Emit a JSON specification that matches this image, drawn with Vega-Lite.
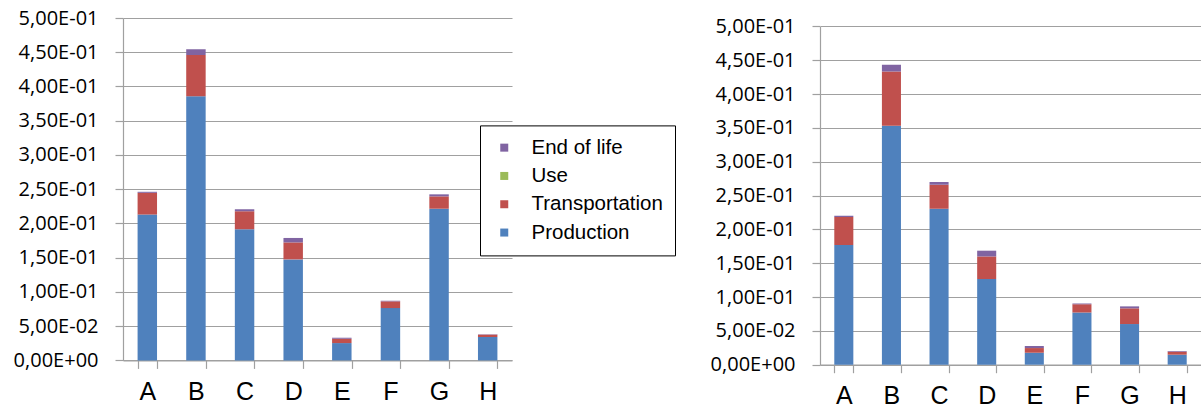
{
  "$schema": "https://vega.github.io/schema/vega-lite/v6.json",
  "background": "white",
  "padding": {"left": 13, "top": 8, "right": 0, "bottom": 0},
  "bounds": "flush",
  "spacing": 308,
  "config": {
    "view": {"stroke": null},
    "axis": {"gridColor": "#a0a0a0", "domainColor": "#a0a0a0", "tickColor": "#a0a0a0", "labelColor": "#000000", "gridWidth": 1.2, "domainWidth": 1.2, "tickWidth": 1.2}
  },
  "data": {"values": [
    {"panel": "left", "item": "A", "stage": "Production", "rank": 1, "value": 0.2130},
    {"panel": "left", "item": "A", "stage": "Transportation", "rank": 2, "value": 0.0317},
    {"panel": "left", "item": "A", "stage": "Use", "rank": 3, "value": 0},
    {"panel": "left", "item": "A", "stage": "End of life", "rank": 4, "value": 0.0015},
    {"panel": "left", "item": "B", "stage": "Production", "rank": 1, "value": 0.3858},
    {"panel": "left", "item": "B", "stage": "Transportation", "rank": 2, "value": 0.0601},
    {"panel": "left", "item": "B", "stage": "Use", "rank": 3, "value": 0},
    {"panel": "left", "item": "B", "stage": "End of life", "rank": 4, "value": 0.0083},
    {"panel": "left", "item": "C", "stage": "Production", "rank": 1, "value": 0.1914},
    {"panel": "left", "item": "C", "stage": "Transportation", "rank": 2, "value": 0.0265},
    {"panel": "left", "item": "C", "stage": "Use", "rank": 3, "value": 0},
    {"panel": "left", "item": "C", "stage": "End of life", "rank": 4, "value": 0.0030},
    {"panel": "left", "item": "D", "stage": "Production", "rank": 1, "value": 0.1475},
    {"panel": "left", "item": "D", "stage": "Transportation", "rank": 2, "value": 0.0248},
    {"panel": "left", "item": "D", "stage": "Use", "rank": 3, "value": 0},
    {"panel": "left", "item": "D", "stage": "End of life", "rank": 4, "value": 0.0065},
    {"panel": "left", "item": "E", "stage": "Production", "rank": 1, "value": 0.0253},
    {"panel": "left", "item": "E", "stage": "Transportation", "rank": 2, "value": 0.0063},
    {"panel": "left", "item": "E", "stage": "Use", "rank": 3, "value": 0},
    {"panel": "left", "item": "E", "stage": "End of life", "rank": 4, "value": 0.0015},
    {"panel": "left", "item": "F", "stage": "Production", "rank": 1, "value": 0.0764},
    {"panel": "left", "item": "F", "stage": "Transportation", "rank": 2, "value": 0.0098},
    {"panel": "left", "item": "F", "stage": "Use", "rank": 3, "value": 0},
    {"panel": "left", "item": "F", "stage": "End of life", "rank": 4, "value": 0.0009},
    {"panel": "left", "item": "G", "stage": "Production", "rank": 1, "value": 0.2215},
    {"panel": "left", "item": "G", "stage": "Transportation", "rank": 2, "value": 0.0180},
    {"panel": "left", "item": "G", "stage": "Use", "rank": 3, "value": 0},
    {"panel": "left", "item": "G", "stage": "End of life", "rank": 4, "value": 0.0030},
    {"panel": "left", "item": "H", "stage": "Production", "rank": 1, "value": 0.0342},
    {"panel": "left", "item": "H", "stage": "Transportation", "rank": 2, "value": 0.0034},
    {"panel": "left", "item": "H", "stage": "Use", "rank": 3, "value": 0},
    {"panel": "left", "item": "H", "stage": "End of life", "rank": 4, "value": 0.0005},
    {"panel": "right", "item": "A", "stage": "Production", "rank": 1, "value": 0.1769},
    {"panel": "right", "item": "A", "stage": "Transportation", "rank": 2, "value": 0.0414},
    {"panel": "right", "item": "A", "stage": "Use", "rank": 3, "value": 0},
    {"panel": "right", "item": "A", "stage": "End of life", "rank": 4, "value": 0.0019},
    {"panel": "right", "item": "B", "stage": "Production", "rank": 1, "value": 0.3532},
    {"panel": "right", "item": "B", "stage": "Transportation", "rank": 2, "value": 0.0803},
    {"panel": "right", "item": "B", "stage": "Use", "rank": 3, "value": 0},
    {"panel": "right", "item": "B", "stage": "End of life", "rank": 4, "value": 0.0099},
    {"panel": "right", "item": "C", "stage": "Production", "rank": 1, "value": 0.2306},
    {"panel": "right", "item": "C", "stage": "Transportation", "rank": 2, "value": 0.0354},
    {"panel": "right", "item": "C", "stage": "Use", "rank": 3, "value": 0},
    {"panel": "right", "item": "C", "stage": "End of life", "rank": 4, "value": 0.0040},
    {"panel": "right", "item": "D", "stage": "Production", "rank": 1, "value": 0.1266},
    {"panel": "right", "item": "D", "stage": "Transportation", "rank": 2, "value": 0.0334},
    {"panel": "right", "item": "D", "stage": "Use", "rank": 3, "value": 0},
    {"panel": "right", "item": "D", "stage": "End of life", "rank": 4, "value": 0.0085},
    {"panel": "right", "item": "E", "stage": "Production", "rank": 1, "value": 0.0177},
    {"panel": "right", "item": "E", "stage": "Transportation", "rank": 2, "value": 0.0069},
    {"panel": "right", "item": "E", "stage": "Use", "rank": 3, "value": 0},
    {"panel": "right", "item": "E", "stage": "End of life", "rank": 4, "value": 0.0030},
    {"panel": "right", "item": "F", "stage": "Production", "rank": 1, "value": 0.0773},
    {"panel": "right", "item": "F", "stage": "Transportation", "rank": 2, "value": 0.0119},
    {"panel": "right", "item": "F", "stage": "Use", "rank": 3, "value": 0},
    {"panel": "right", "item": "F", "stage": "End of life", "rank": 4, "value": 0.0014},
    {"panel": "right", "item": "G", "stage": "Production", "rank": 1, "value": 0.0601},
    {"panel": "right", "item": "G", "stage": "Transportation", "rank": 2, "value": 0.0232},
    {"panel": "right", "item": "G", "stage": "Use", "rank": 3, "value": 0},
    {"panel": "right", "item": "G", "stage": "End of life", "rank": 4, "value": 0.0029},
    {"panel": "right", "item": "H", "stage": "Production", "rank": 1, "value": 0.0148},
    {"panel": "right", "item": "H", "stage": "Transportation", "rank": 2, "value": 0.0044},
    {"panel": "right", "item": "H", "stage": "Use", "rank": 3, "value": 0},
    {"panel": "right", "item": "H", "stage": "End of life", "rank": 4, "value": 0.0010}
  ]},
  "resolve": {"scale": {"x": "independent", "y": "independent"}, "legend": {"color": "independent"}},
  "hconcat": [
    {
      "width": 389,
      "height": 342.4,
      "transform": [{"filter": "datum.panel == 'left'"}],
      "mark": {"type": "bar"},
      "encoding": {
        "x": {"field": "item", "type": "nominal", "sort": ["A","B","C","D","E","F","G","H"],
          "scale": {"paddingInner": 0.6, "paddingOuter": 0.3},
          "axis": {"title": null, "labelAngle": 0, "tickBand": "extent", "tickSize": 8, "labelFont": "Liberation Sans", "labelFontSize": 25, "labelPadding": 11, "grid": false}},
        "y": {"field": "value", "type": "quantitative", "stack": "zero",
          "scale": {"domain": [0, 0.5], "nice": false},
          "axis": {"title": null, "values": [0, 0.05, 0.1, 0.15, 0.2, 0.25, 0.3, 0.35, 0.4, 0.45, 0.5],
            "labelExpr": "datum.value < 0.001 ? '0,00E+00' : datum.value >= 0.0999 ? replace(format(datum.value * 10, '.2f'), '.', ',') + 'E-01' : replace(format(datum.value * 100, '.2f'), '.', ',') + 'E-02'",
            "tickSize": 8, "labelFont": "Open Sans", "labelFontSize": 20, "labelPadding": 17, "grid": true}},
        "color": {"field": "stage", "type": "nominal",
          "scale": {"domain": ["End of life", "Use", "Transportation", "Production"], "range": ["#8064A2", "#9BBB59", "#C0504D", "#4F81BD"]},
          "legend": {"orient": "none", "legendX": 357, "legendY": 107.4, "title": null, "strokeColor": "#000000", "fillColor": "#ffffff", "padding": 12, "symbolType": "square", "symbolSize": 64, "symbolStrokeWidth": 0, "symbolOffset": 2, "labelFont": "Liberation Sans", "labelFontSize": 20.5, "labelOffset": 17, "rowPadding": 7.3, "labelColor": "#000000"}},
        "order": {"field": "rank", "type": "quantitative"}
      }
    },
    {
      "width": 381,
      "height": 346.7,
      "transform": [{"filter": "datum.panel == 'right'"}],
      "mark": {"type": "bar"},
      "encoding": {
        "x": {"field": "item", "type": "nominal", "sort": ["A","B","C","D","E","F","G","H"],
          "scale": {"paddingInner": 0.6, "paddingOuter": 0.3},
          "axis": {"title": null, "labelAngle": 0, "tickBand": "extent", "tickSize": 8, "labelFont": "Liberation Sans", "labelFontSize": 25, "labelPadding": 11, "grid": false}},
        "y": {"field": "value", "type": "quantitative", "stack": "zero",
          "scale": {"domain": [0, 0.5], "nice": false, "range": [346.7, 8.4]},
          "axis": {"title": null, "values": [0, 0.05, 0.1, 0.15, 0.2, 0.25, 0.3, 0.35, 0.4, 0.45, 0.5],
            "labelExpr": "datum.value < 0.001 ? '0,00E+00' : datum.value >= 0.0999 ? replace(format(datum.value * 10, '.2f'), '.', ',') + 'E-01' : replace(format(datum.value * 100, '.2f'), '.', ',') + 'E-02'",
            "tickSize": 8, "labelFont": "Open Sans", "labelFontSize": 20, "labelPadding": 17, "grid": true}},
        "color": {"field": "stage", "type": "nominal",
          "scale": {"domain": ["End of life", "Use", "Transportation", "Production"], "range": ["#8064A2", "#9BBB59", "#C0504D", "#4F81BD"]},
          "legend": null},
        "order": {"field": "rank", "type": "quantitative"}
      }
    }
  ]
}
